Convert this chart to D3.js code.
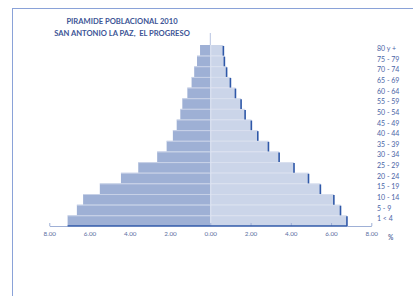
<!DOCTYPE html>
<html><head><meta charset="utf-8">
<script src="https://cdn.jsdelivr.net/npm/d3@7"></script>
<style>html,body{margin:0;padding:0;background:#fff;}svg{display:block;}</style>
</head><body>
<script>
const ageGroups = ["80 y +","75 - 79","70 - 74","65 - 69","60 - 64","55 - 59","50 - 54","45 - 49","40 - 44","35 - 39","30 - 34","25 - 29","20 - 24","15 - 19","10 - 14","5 - 9","1 < 4"];
const leftValues = [0.51,0.66,0.80,0.93,1.14,1.39,1.49,1.67,1.86,2.17,2.64,3.58,4.44,5.49,6.32,6.63,7.09];
const rightValues = [0.65,0.70,0.81,1.00,1.25,1.53,1.73,2.04,2.36,2.89,3.42,4.16,4.88,5.47,6.14,6.47,6.79];
const tickValues = [-8,-6,-4,-2,0,2,4,6,8];
const titleLines = ["PIRAMIDE POBLACIONAL 2010","SAN ANTONIO LA PAZ,  EL PROGRESO"];

const W=413,H=296;
const svg=d3.select("body").append("svg").attr("width",W).attr("height",H);
const font="Lato, 'Open Sans', sans-serif";

// outer chart border
svg.append("rect").attr("x",12.5).attr("y",8.5).attr("width",W+20).attr("height",H+20)
  .attr("fill","none").attr("stroke","#8aa2d8").attr("stroke-width",1);

const x=d3.scaleLinear().domain([-8,8]).range([49.3,371.3]);
const y=d3.scaleBand().domain(ageGroups).range([45,226]).padding(0);

const data=ageGroups.map((g,i)=>({g,l:leftValues[i],r:rightValues[i]}));

// zero line extending above
svg.append("line").attr("x1",x(0)).attr("x2",x(0)).attr("y1",33).attr("y2",226)
  .attr("stroke","#b7c4e2").attr("stroke-width",1);

// left bars
svg.selectAll("rect.l").data(data).join("rect").attr("class","l")
  .attr("x",d=>x(-d.l)).attr("y",d=>y(d.g)).attr("width",d=>x(0)-x(-d.l)).attr("height",y.bandwidth())
  .attr("fill","#9eb0d5");
// right bars
svg.selectAll("rect.r").data(data).join("rect").attr("class","r")
  .attr("x",x(0)).attr("y",d=>y(d.g)).attr("width",d=>x(d.r)-x(0)).attr("height",y.bandwidth())
  .attr("fill","#cbd5e9");
// separators
svg.selectAll("line.sl").data(data.slice(1)).join("line").attr("class","sl")
  .attr("x1",d=>x(-d.l)).attr("x2",d=>x(d.r)).attr("y1",d=>y(d.g)+0.5).attr("y2",d=>y(d.g)+0.5)
  .attr("stroke","#dfe5f2").attr("stroke-width",0.8).attr("opacity",0.8);
// zero divider within bars
svg.selectAll("line.z").data([0]).join("line").attr("x1",x(0)+0.5).attr("x2",x(0)+0.5)
  .attr("y1",y(ageGroups[0])).attr("y2",226).attr("stroke","#dfe5f2").attr("stroke-width",1);
// dark right edges
svg.selectAll("line.re").data(data).join("line").attr("class","re")
  .attr("x1",d=>x(d.r)).attr("x2",d=>x(d.r)).attr("y1",d=>y(d.g)+1).attr("y2",d=>y(d.g)+y.bandwidth())
  .attr("stroke","#2f58a8").attr("stroke-width",1.6);

// axis
const axis=d3.axisBottom(x).tickValues(tickValues).tickSizeInner(-3).tickSizeOuter(0)
  .tickFormat(d=>Math.abs(d).toFixed(2));
const ag=svg.append("g").attr("transform","translate(0,226)").call(axis);
ag.select(".domain").attr("stroke","#9fb0d6");
ag.selectAll(".tick line").attr("stroke","#9fb0d6");
ag.selectAll(".tick text").attr("y",6).attr("dy","0.71em").attr("font-family",font).attr("font-size",6.3).attr("fill","#5b6e9f");
// dark bottom line of lowest bars
const last=data[data.length-1];
svg.append("line").attr("x1",x(-last.l)).attr("x2",x(last.r)).attr("y1",225.8).attr("y2",225.8)
  .attr("stroke","#2f58a8").attr("stroke-width",1.3);

svg.append("text").attr("x",388).attr("y",240).text("%").attr("font-family",font)
  .attr("font-size",6.5).attr("font-weight","bold").attr("fill","#5b6e9f");

// category labels
svg.selectAll("text.cat").data(ageGroups).join("text").attr("class","cat")
  .attr("x",377).attr("y",d=>y(d)+y.bandwidth()/2-1.8).attr("dy","0.35em").text(d=>d)
  .attr("font-family",font).attr("font-size",7).attr("fill","#4a64a6");

// title
svg.selectAll("text.title").data(titleLines).join("text").attr("class","title")
  .attr("x",122).attr("y",(d,i)=>24+i*12.3).attr("text-anchor","middle").text(d=>d)
  .style("white-space","pre")
  .attr("font-family",font).attr("font-size",7.6).attr("font-weight","bold").attr("fill","#3d5596");
</script>
</body></html>
